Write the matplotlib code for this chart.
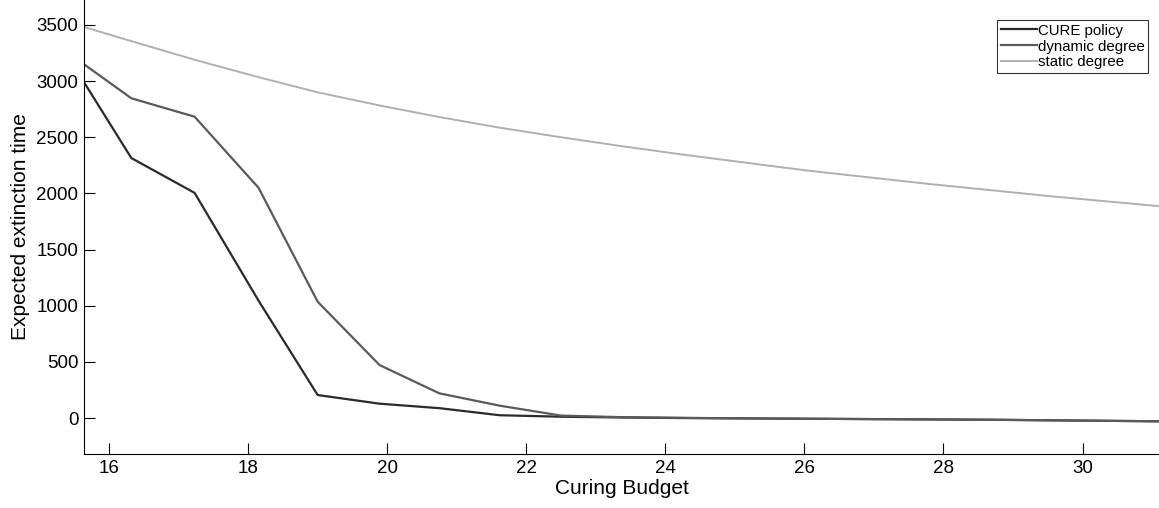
import matplotlib
matplotlib.use("Agg")
import matplotlib.pyplot as plt

plt.rcParams['font.family'] = ['Liberation Sans', 'DejaVu Sans']

budget = [15.64, 16.32, 17.23, 18.15, 19.0, 19.89, 20.75, 21.62, 22.5, 23.38,
          24.26, 25.14, 26.02, 26.9, 27.78, 28.66, 29.54, 30.42, 31.3]
cure_policy = [2990, 2315, 2005, 1045, 205, 128, 88, 25, 12, 5,
               0, -3, -6, -9, -12, -15, -20, -25, -30]
dynamic_degree = [3150, 2847, 2683, 2050, 1036, 472, 220, 110, 22, 8,
                  2, -3, -6, -9, -12, -15, -20, -25, -30]
static_degree = [3482, 3356, 3190, 3035, 2900, 2783, 2680, 2585, 2500, 2420,
                 2345, 2275, 2205, 2145, 2085, 2030, 1975, 1925, 1875]
xticks = [16, 18, 20, 22, 24, 26, 28, 30]
yticks = [0, 500, 1000, 1500, 2000, 2500, 3000, 3500]

fig = plt.figure(figsize=(11.59, 5.08), dpi=100)
ax = fig.add_axes([0.0725, 0.1063, 0.9275, 0.8937])

ax.plot(budget, cure_policy, color='#2a2a2a', lw=1.6, label='CURE policy')
ax.plot(budget, dynamic_degree, color='#5a5a5a', lw=1.6, label='dynamic degree')
ax.plot(budget, static_degree, color='#b0b0b0', lw=1.4, label='static degree')

ax.set_xlim(15.64, 31.1)
ax.set_ylim(-320, 3722)
ax.set_xticks(xticks)
ax.set_yticks(yticks)
ax.tick_params(direction='in', length=8, width=0.8, labelsize=13.5, pad=4)
ax.spines['top'].set_visible(False)
ax.spines['right'].set_visible(False)
ax.set_xlabel('Curing Budget', fontsize=15, labelpad=2)
ax.set_ylabel('Expected extinction time', fontsize=15, labelpad=5)

leg = ax.legend(loc='upper right', fontsize=10.8, frameon=True, fancybox=False,
                edgecolor='black', handlelength=2.4, handletextpad=0.05,
                labelspacing=0.12, borderpad=0.25, borderaxespad=0.0,
                bbox_to_anchor=(0.99, 0.956), bbox_transform=ax.transAxes)
leg.get_frame().set_linewidth(0.8)

fig.savefig('out.png', dpi=100)
